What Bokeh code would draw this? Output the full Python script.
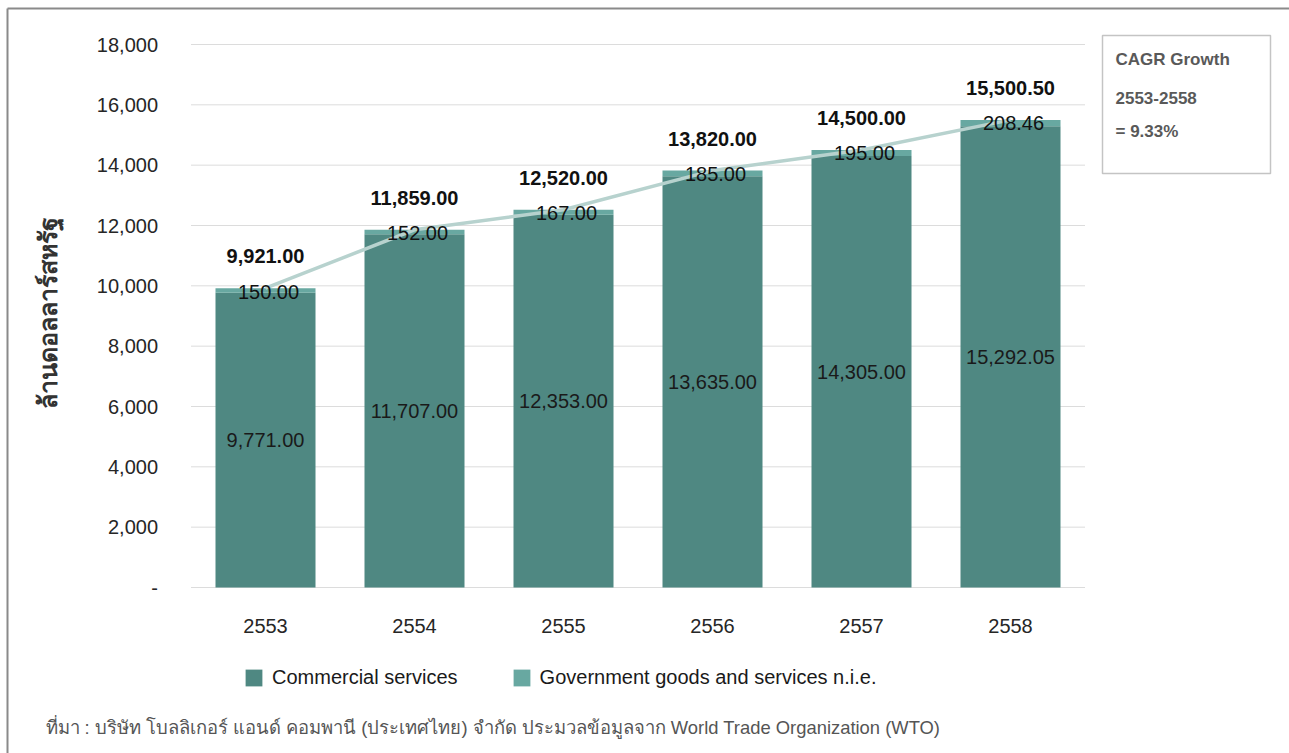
import math
from bokeh.plotting import figure
from bokeh.models import Range1d, Legend, LegendItem, ColumnDataSource
from bokeh.core.properties import value
from bokeh.embed import file_html
from bokeh.resources import INLINE

# ---------------- data ----------------
years = ["2553", "2554", "2555", "2556", "2557", "2558"]
commercial = [9771.00, 11707.00, 12353.00, 13635.00, 14305.00, 15292.05]
government = [150.00, 152.00, 167.00, 185.00, 195.00, 208.46]
totals = [9921.00, 11859.00, 12520.00, 13820.00, 14500.00, 15500.50]
y_ticks = [0, 2000, 4000, 6000, 8000, 10000, 12000, 14000, 16000, 18000]
y_tick_labels = ["-", "2,000", "4,000", "6,000", "8,000", "10,000", "12,000", "14,000", "16,000", "18,000"]
cagr_lines = ["CAGR Growth", "2553-2558", "= 9.33%"]
series_names = ["Commercial services", "Government goods and services n.i.e."]
y_title = "ล้านดอลลาร์สหรัฐ"
source_note = "ที่มา : บริษัท โบลลิเกอร์ แอนด์ คอมพานี (ประเทศไทย) จำกัด ประมวลข้อมูลจาก World Trade Organization (WTO)"

# ---------------- styling / geometry ----------------
C_COM = "#4f8882"
C_GOV = "#68a8a1"
C_LINE = "#b7d2ce"
FONT = "Liberation Sans"
W, H = 1289, 753
X0, Y0 = 265.0, 587.0        # screen position of first category / zero line
PX_X = 149.0                 # px per category
PX_Y = 543.0 / 18000.0       # px per value unit


def sx(px):  # screen x -> data x
    return (px - X0) / PX_X


def sy(py):  # screen y -> data y
    return (Y0 - py) / PX_Y


x = list(range(len(years)))
src = ColumnDataSource(dict(
    x=x, year=years, com=commercial, gov=government, tot=totals,
    com_mid=[c / 2 for c in commercial],
    com_lbl=[f"{v:,.2f}" for v in commercial],
    gov_lbl=[f"{v:,.2f}" for v in government],
    tot_lbl=[f"{v:,.2f}" for v in totals],
    tot_pos=[t + 32 / PX_Y for t in totals],
    gov_pos=[t - 3.3 / PX_Y for t in totals],
    gov_x=[i + 3 / PX_X for i in x],
    year_pos=[-38 / PX_Y] * len(years),
))

p = figure(width=W, height=H,
           x_range=Range1d(sx(0), sx(W)), y_range=Range1d(sy(H), sy(0)),
           output_backend="svg", toolbar_location=None,
           x_axis_location=None, y_axis_location=None,
           min_border=0, min_border_left=0, min_border_right=0,
           min_border_top=0, min_border_bottom=0)
p.xgrid.visible = False
p.ygrid.visible = False
p.outline_line_color = None
p.background_fill_color = "white"
p.border_fill_color = "white"

# outer frame lines (top and left)
p.segment(x0=[sx(7), sx(7)], x1=[sx(7), sx(W)], y0=[sy(8), sy(8)], y1=[sy(H), sy(8)],
          line_color="#8a8a8a", line_width=2)

# gridlines across category area only
n = len(years)
p.segment(x0=[-0.5] * len(y_ticks), x1=[n - 0.5] * len(y_ticks),
          y0=y_ticks, y1=y_ticks, line_color="#dcdcdc", line_width=1)

# y tick labels
p.text(x=[-0.5 - 33 / PX_X] * len(y_ticks), y=y_ticks, text=y_tick_labels,
       text_font=value(FONT), text_font_size="20px", text_color="#262626",
       text_align="right", text_baseline="middle")

# bars
bw = 100 / PX_X
r_com = p.vbar(x="x", width=bw, bottom=0, top="com", source=src,
               fill_color=C_COM, line_color=None)
r_gov = p.vbar(x="x", width=bw, bottom="com", top="tot", source=src,
               fill_color=C_GOV, line_color=None)

# total line
p.line(x="x", y="tot", source=src, line_color=C_LINE, line_width=3.5)

# labels
p.text(x="x", y="tot_pos", text="tot_lbl", source=src, text_font=value(FONT),
       text_font_style="bold", text_font_size="20px", text_color="#111111",
       text_align="center", text_baseline="middle")
p.text(x="gov_x", y="gov_pos", text="gov_lbl", source=src, text_font=value(FONT),
       text_font_size="20px", text_color="#111111",
       text_align="center", text_baseline="middle")
p.text(x="x", y="com_mid", text="com_lbl", source=src, text_font=value(FONT),
       text_font_size="20px", text_color="#1a1a1a",
       text_align="center", text_baseline="middle")
p.text(x="x", y="year_pos", text="year", source=src, text_font=value(FONT),
       text_font_size="20px", text_color="#262626",
       text_align="center", text_baseline="middle")

# CAGR box
p.quad(left=[sx(1102)], right=[sx(1270)], top=[sy(35)], bottom=[sy(173)],
       fill_color="white", line_color="#c4c4c4", line_width=1.5)
p.text(x=[sx(1115)] * 3, y=[sy(59), sy(97), sy(131)], text=cagr_lines,
       text_font=value(FONT), text_font_style="bold", text_font_size="17px",
       text_color="#595959", text_align="left", text_baseline="middle")

# legend
legend = Legend(items=[LegendItem(label=series_names[0], renderers=[r_com]),
                       LegendItem(label=series_names[1], renderers=[r_gov])],
                orientation="horizontal", location=(243, 64),
                glyph_width=21, glyph_height=21, label_standoff=8, spacing=53,
                padding=0, margin=0, border_line_color=None, background_fill_alpha=0,
                label_text_font=FONT, label_text_font_size="20px",
                label_text_color="#1a1a1a", label_height=21)
p.add_layout(legend)

# y axis title and source note
p.text(x=[sx(46)], y=[sy(312)], text=[y_title], angle=math.pi / 2,
       text_font=value("Noto Sans"), text_font_style="bold", text_font_size="25px",
       text_color="#333333", text_align="center", text_baseline="middle")
p.text(x=[sx(45)], y=[sy(727)], text=[source_note],
       text_font=value(FONT), text_font_size="18.4px", text_color="#555555",
       text_align="left", text_baseline="middle")

open("out.html", "w").write(file_html(p, INLINE))
